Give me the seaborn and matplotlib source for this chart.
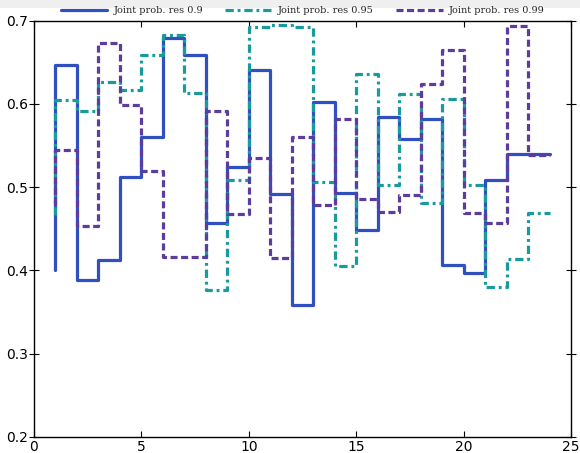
import numpy as np
import pandas as pd
import matplotlib
matplotlib.use("Agg")
import matplotlib.pyplot as plt
import seaborn as sns
from matplotlib.patches import Rectangle

# step positions (drawn with steps-pre: first value is the starting point at x=1)
x = list(range(1, 25))

res_090 = [0.400, 0.646, 0.389, 0.412, 0.512, 0.560, 0.679, 0.659, 0.457, 0.524,
           0.641, 0.492, 0.358, 0.602, 0.493, 0.448, 0.584, 0.558, 0.582, 0.406,
           0.397, 0.508, 0.540, 0.540]
res_095 = [0.466, 0.604, 0.591, 0.626, 0.617, 0.659, 0.682, 0.613, 0.377, 0.509,
           0.692, 0.694, 0.692, 0.506, 0.405, 0.636, 0.502, 0.612, 0.481, 0.606,
           0.503, 0.380, 0.414, 0.469]
res_099 = [0.478, 0.545, 0.453, 0.673, 0.599, 0.519, 0.416, 0.416, 0.591, 0.468,
           0.535, 0.415, 0.560, 0.478, 0.582, 0.486, 0.470, 0.491, 0.624, 0.664,
           0.469, 0.457, 0.693, 0.539]

labels = ["Joint prob. res 0.9", "Joint prob. res 0.95", "Joint prob. res 0.99"]
colors = ["#3050c0", "#1a9a9c", "#5c3c9c"]
styles = ["-", (0, (2.6, 1.2, 0.9, 1.2)), (0, (2.2, 1.1))]

sns.set_style("white")

fig = plt.figure(figsize=(5.8, 4.53), dpi=100)
fig.patches.append(Rectangle((0, 1 - 8 / 453), 1, 8 / 453, transform=fig.transFigure,
                             facecolor="#efefef", edgecolor="none", zorder=-1))
ax = fig.add_axes([34 / 580, 1 - 437 / 453, 537 / 580, 416.5 / 453])

for vals, lab, col, ls in zip([res_090, res_095, res_099], labels, colors, styles):
    df = pd.DataFrame({"x": x, "y": vals})
    sns.lineplot(data=df, x="x", y="y", ax=ax, color=col, linestyle=ls,
                 linewidth=2.3, drawstyle="steps-pre", label=lab)

ax.set_xlim(0, 25)
ax.set_ylim(0.2, 0.7)
ax.set_xticks([0, 5, 10, 15, 20, 25])
ax.set_yticks([0.2, 0.3, 0.4, 0.5, 0.6, 0.7])
ax.set_xlabel("")
ax.set_ylabel("")
for s in ax.spines.values():
    s.set_color("black")
    s.set_linewidth(1.0)
ax.tick_params(axis="x", direction="in", top=True, bottom=True, length=4,
               labelsize=10, pad=2, colors="black")
ax.tick_params(axis="y", direction="inout", left=True, right=True, length=7,
               labelsize=10, pad=1, colors="black")

leg = ax.legend(loc="center", bbox_to_anchor=(0.5, 1.023), ncol=3, frameon=False,
                prop={"family": "DejaVu Serif", "size": 7}, handlelength=4.8,
                handletextpad=0.6, columnspacing=2.3, borderaxespad=0)

fig.savefig("out.png", dpi=100)
